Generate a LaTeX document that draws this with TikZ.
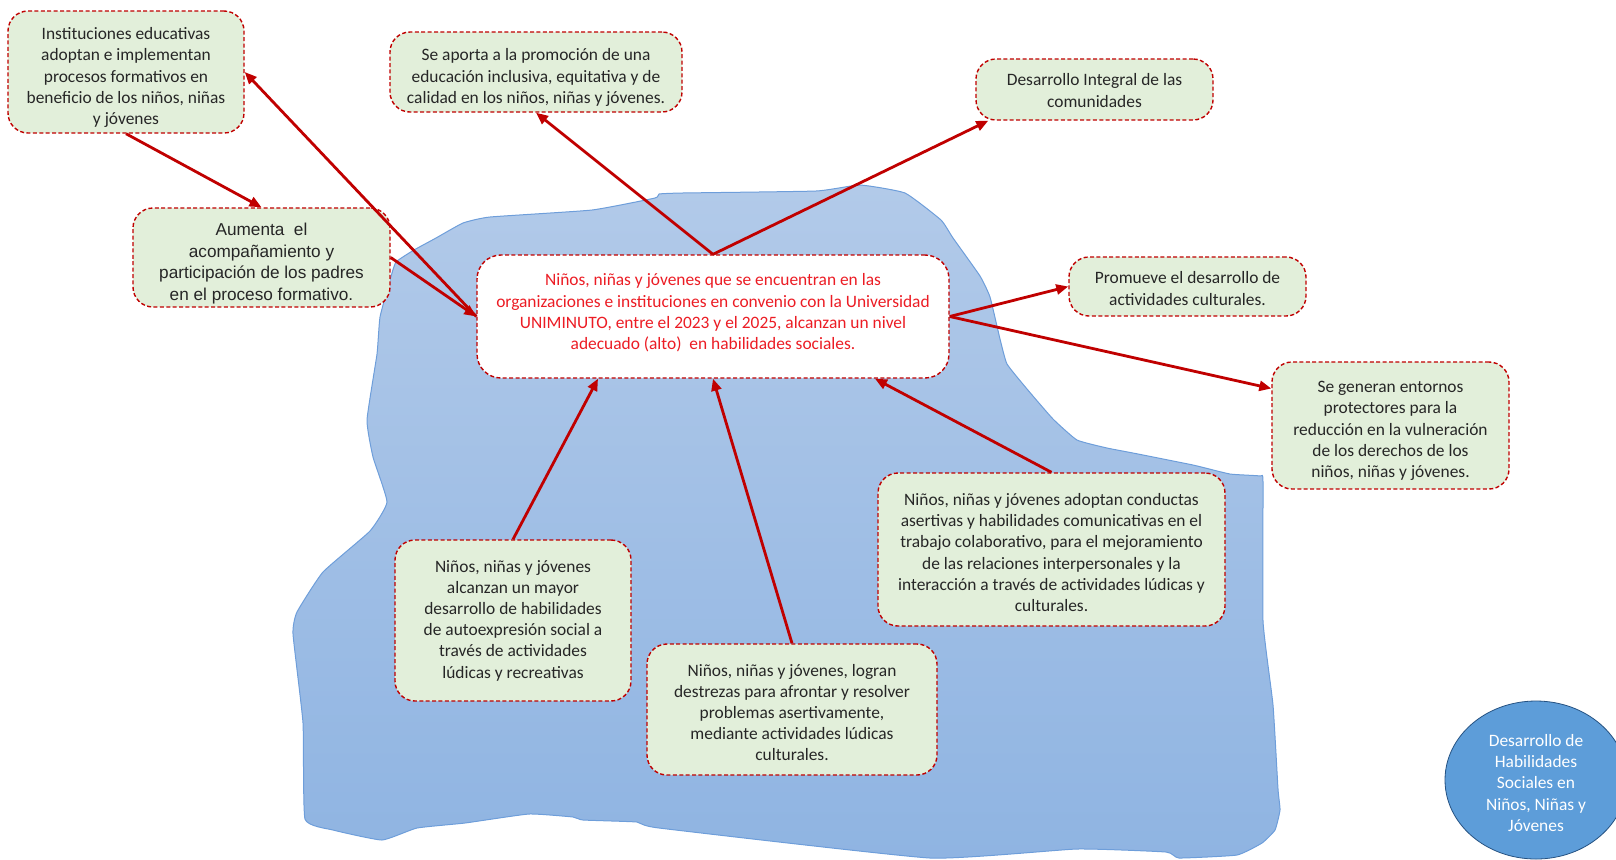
\documentclass[tikz,border=0pt]{standalone}
\usepackage{fontspec}
\setmainfont{Carlito}
\newfontfamily\arialfont{Liberation Sans}
\usepackage{xcolor}
\usetikzlibrary{arrows.meta, shapes.geometric, calc}

\definecolor{boxgreen}{RGB}{226,239,218}
\definecolor{boxred}{RGB}{192,0,0}
\definecolor{goalred}{RGB}{236,28,36}
\definecolor{lakelight}{RGB}{178,202,233}
\definecolor{lakedark}{RGB}{143,180,226}
\definecolor{lakeline}{RGB}{110,158,218}
\definecolor{discin}{RGB}{93,157,217}
\definecolor{discout}{RGB}{46,102,162}
\pgfdeclareradialshading{discshade}{\pgfpoint{0bp}{0bp}}{%
  color(0bp)=(discin); color(36bp)=(discin); color(47bp)=(discout);
  color(50bp)=(discout); color(80bp)=(discout)}

% move a text block down (first line) or up (last line)
\newcommand{\sinktext}[1]{\rule{0pt}{\dimexpr\fontcharht\font`\d+#1+#1\relax}}
\newcommand{\lifttext}[1]{\rule[-\dimexpr\fontchardp\font`\(+#1+#1\relax]{0pt}{0pt}}

\begin{document}
\begin{tikzpicture}[x=0.5pt, y=-0.5pt,
  result/.style={draw=boxred, dash pattern=on 2pt off 1.2pt, line width=0.7pt,
                 rounded corners=10pt, fill=boxgreen, align=center,
                 text=black!85, inner sep=0pt,
                 font=\fontsize{8.7}{10.6}\selectfont},
  goal/.style={result, fill=white, text=goalred, rounded corners=12pt},
  arrow/.style={-{Triangle[length=6pt,width=5pt]}, line width=1.4pt, boxred},
  disc/.style={ellipse, shading=discshade, draw=discout!80!black,
               line width=0.4pt, text=white, align=center, inner sep=0pt,
               font=\fontsize{8.7}{10.6}\selectfont}
]
\useasboundingbox (0,0) rectangle (1616,859);

% the lake behind the central goal
\shadedraw[top color=lakelight, bottom color=lakedark, draw=lakeline, line width=0.5pt]
  plot[smooth cycle, tension=0.25] coordinates {
    (390,280) (396,262) (414,250) (436,238) (463,223) (490,217) (592,210)
    (655,198) (659,194) (682,193) (816,191) (860,185) (905,193) (941,220)
    (953,238) (980,276) (990,297) (1000,339) (1007,364) (1027,389) (1053,419)
    (1077,440) (1107,448) (1133,453) (1193,465) (1230,474) (1260,476)
    (1263,482) (1263,621) (1273,705) (1278,789) (1280,810) (1275,830)
    (1262,843) (1237,855) (1179,858) (1166,852) (1077,849) (930,858)
    (659,828) (637,822) (583,820) (573,817) (529,814) (465,823) (417,828)
    (382,840) (333,830) (305,819) (303,723) (293,634) (297,612) (323,572)
    (370,531) (387,502) (373,457) (367,420) (377,354) (380,317)};

% goal
\node[goal, minimum width=236pt, minimum height=61.5pt] (goal) at (713,316.5) {
  Niños, niñas y jóvenes que se encuentran en las\\
  organizaciones e instituciones en convenio con la Universidad\\
  UNIMINUTO, entre el 2023 y el 2025, alcanzan un nivel\\
  adecuado (alto)\ \ en habilidades sociales.\lifttext{1.8pt}
};

% effects
\node[result, minimum width=118pt, minimum height=61pt] (inst) at (126,72) {
  \sinktext{2.8pt}Instituciones educativas\\
  adoptan e implementan\\
  procesos formativos en\\
  beneficio de los niños, niñas\\
  y jóvenes
};
\node[result, minimum width=128.5pt, minimum height=49.5pt,
      font=\arialfont\fontsize{8.6}{10.8}\selectfont] (padres) at (261.5,257.5) {
  \sinktext{3.1pt}Aumenta\ \ el\\
  acompañamiento y\\
  participación de los padres\\
  en el proceso formativo.
};
\node[result, minimum width=146pt, minimum height=40pt] (inclusiva) at (536,72) {
  \sinktext{2.8pt}Se aporta a la promoción de una\\
  educación inclusiva, equitativa y de\\
  calidad en los niños, niñas y jóvenes.
};
\node[result, minimum width=118.5pt, minimum height=30.5pt] (integral) at (1094.5,89.5) {
  \sinktext{0.5pt}Desarrollo Integral de las\\
  comunidades
};
\node[result, minimum width=118.5pt, minimum height=29.5pt] (cultura) at (1187.5,286.5) {
  \sinktext{1pt}Promueve el desarrollo de\\
  actividades culturales.
};
\node[result, minimum width=118.5pt, minimum height=63.5pt] (entornos) at (1390.5,425.5) {
  \sinktext{2.5pt}Se generan entornos\\
  protectores para la\\
  reducción en la vulneración\\
  de los derechos de los\\
  niños, niñas y jóvenes.
};

% means
\node[result, minimum width=173.5pt, minimum height=76.5pt] (conductas) at (1051.5,549.5) {
  \sinktext{1.5pt}Niños, niñas y jóvenes adoptan conductas\\
  asertivas y habilidades comunicativas en el\\
  trabajo colaborativo, para el mejoramiento\\
  de las relaciones interpersonales y la\\
  interacción a través de actividades lúdicas y\\
  culturales.
};
\node[result, minimum width=118pt, minimum height=80.5pt] (autoexp) at (513,620.5) {
  Niños, niñas y jóvenes\\
  alcanzan un mayor\\
  desarrollo de habilidades\\
  de autoexpresión social a\\
  través de actividades\\
  lúdicas y recreativas
};
\node[result, minimum width=145pt, minimum height=65.5pt] (destrezas) at (792,709.5) {
  \sinktext{1.5pt}Niños, niñas y jóvenes, logran\\
  destrezas para afrontar y resolver\\
  problemas asertivamente,\\
  mediante actividades lúdicas\\
  culturales.
};

\node[disc, minimum width=91pt, minimum height=79pt] (title) at (1536,780) {
  \sinktext{1.5pt}Desarrollo de\\
  Habilidades\\
  Sociales en\\
  Niños, Niñas y\\
  Jóvenes
};

% connectors
\draw[arrow] (inst.south) -- (padres.north);
\draw[arrow] (goal.west) -- (inst.east);
\draw[arrow] (padres.east) -- (goal.west);
\draw[arrow] (goal.north) -- (inclusiva.south);
\draw[arrow] (goal.north) -- ([xshift=6.5pt]integral.south west);
\draw[arrow] (goal.east) -- (cultura.west);
\draw[arrow] (goal.east) -- ([yshift=18.5pt]entornos.west);
\draw[arrow] (autoexp.north) -- ([xshift=-57.5pt]goal.south);
\draw[arrow] (destrezas.north) -- (goal.south);
\draw[arrow] (conductas.north) -- ([xshift=81pt]goal.south);

\end{tikzpicture}
\end{document}
